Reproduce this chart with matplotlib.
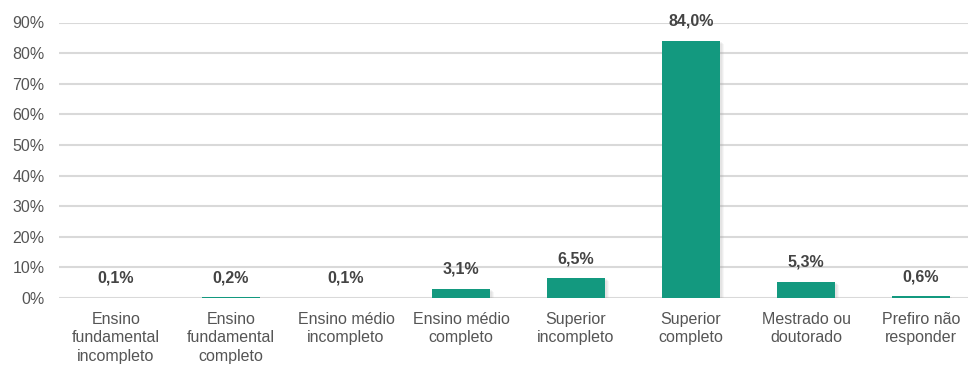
import matplotlib
matplotlib.use("Agg")
import matplotlib.pyplot as plt
import matplotlib.transforms as mtransforms

plt.rcParams['font.family'] = ['Liberation Sans', 'DejaVu Sans']

categories = ["Ensino\nfundamental\nincompleto", "Ensino\nfundamental\ncompleto",
              "Ensino médio\nincompleto", "Ensino médio\ncompleto",
              "Superior\nincompleto", "Superior\ncompleto",
              "Mestrado ou\ndoutorado", "Prefiro não\nresponder"]
values = [0.1, 0.2, 0.1, 3.1, 6.5, 84.0, 5.3, 0.6]
value_labels = ["0,1%", "0,2%", "0,1%", "3,1%", "6,5%", "84,0%", "5,3%", "0,6%"]
yticks = [0, 10, 20, 30, 40, 50, 60, 70, 80, 90]
ytick_labels = ["0%", "10%", "20%", "30%", "40%", "50%", "60%", "70%", "80%", "90%"]

W, H = 968, 365
fig = plt.figure(figsize=(W / 100, H / 100), dpi=100)
left, right = 58.5, 978.5
bottom, top = 298, 22.5
ax = fig.add_axes([left / W, (H - bottom) / H, (right - left) / W, (bottom - top) / H])

x = list(range(len(categories)))
bar_color = "#13997f"
text_color = "#555555"

# soft shadows
for dx, dy, a in [(4, -3, 0.08), (3, -2, 0.10), (2, -1, 0.10)]:
    tr = mtransforms.offset_copy(ax.transData, fig=fig, x=dx, y=dy, units='dots')
    ax.bar(x, values, width=0.5, color="#9a9a9a", alpha=a, transform=tr, zorder=2, linewidth=0)
ax.bar(x, values, width=0.5, color=bar_color, zorder=3, linewidth=0)

for xi, v, lab in zip(x, values, value_labels):
    ax.annotate(lab, (xi, v), xytext=(0, 15), textcoords='offset pixels',
                ha='center', va='baseline', fontsize=11.5, fontweight='bold',
                color="#444444", annotation_clip=False, zorder=5)

ax.set_xlim(-0.5, 7.5)
ax.set_ylim(0, 90)
ax.set_yticks(yticks)
ax.set_yticklabels(ytick_labels)
ax.set_xticks(x)
ax.set_xticklabels(categories, linespacing=1.3)
ax.tick_params(axis='y', length=0, pad=10, labelsize=11.5, labelcolor=text_color)
ax.tick_params(axis='x', length=0, pad=10, labelsize=11.5, labelcolor=text_color)
ax.grid(axis='y', color="#d9d9d9", linewidth=1.5, zorder=0)
ax.set_axisbelow(True)
for s in ax.spines.values():
    s.set_visible(False)

fig.savefig("out.png", dpi=100)
